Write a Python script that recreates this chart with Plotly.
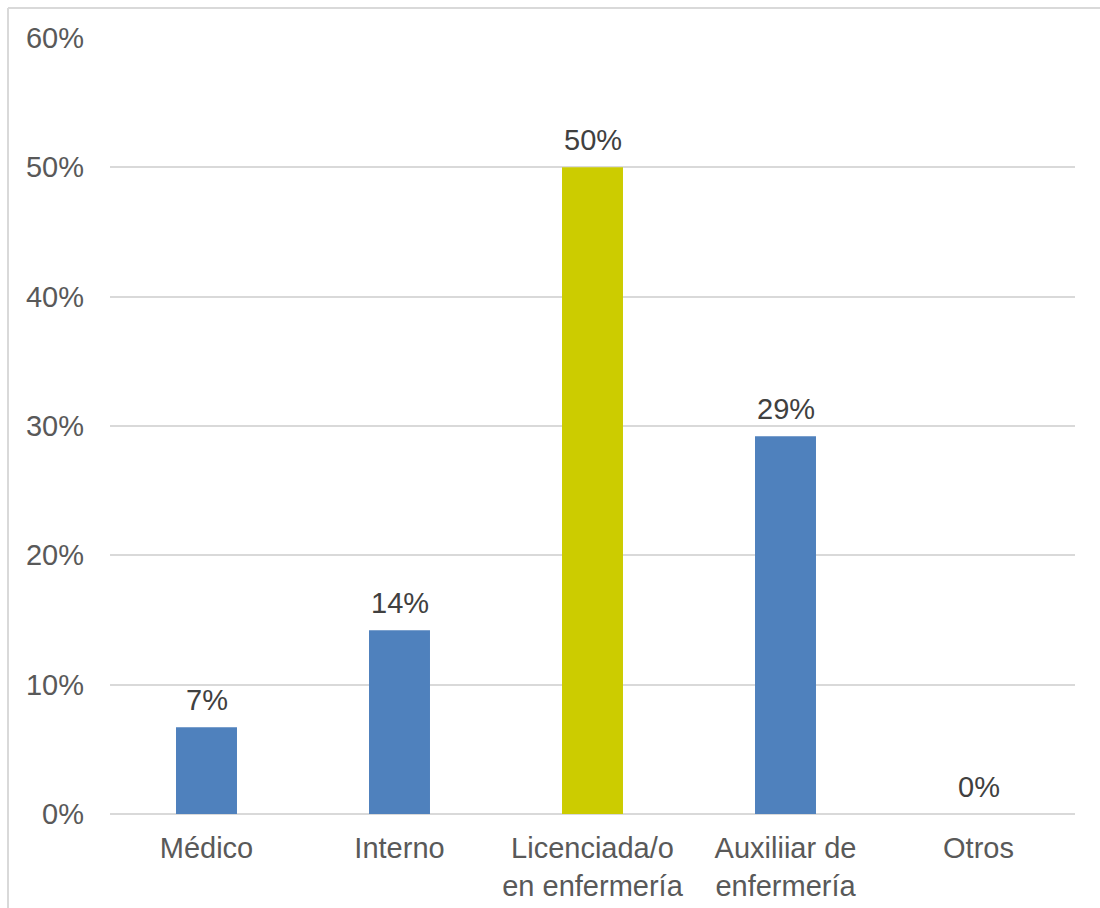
import plotly.graph_objects as go

# Distribución por categoría profesional
categorias = ["Médico", "Interno", "Licenciada/o<br>en enfermería", "Auxiliiar de<br>enfermería", "Otros"]
porcentajes = [0.067, 0.142, 0.50, 0.292, 0.0]
colores = ["#4F81BD", "#4F81BD", "#CCCC00", "#4F81BD", "#4F81BD"]
ticks_y = [0, 0.1, 0.2, 0.3, 0.4, 0.5, 0.6]

W, H = 1100, 908
L, R, T, B = 110, 25, 38, 94
FUENTE = "Liberation Sans, Arial"

fig = go.Figure(
    go.Bar(
        x=categorias,
        y=porcentajes,
        marker=dict(color=colores, line=dict(width=0)),
        width=0.316,
        hoverinfo="x+y",
    )
)

# Etiquetas de valor encima de cada barra
for cat, val in zip(categorias, porcentajes):
    fig.add_annotation(
        x=cat, y=val, text=f"{val:.0%}", showarrow=False,
        yanchor="bottom", yshift=9,
        font=dict(family=FUENTE, size=29, color="#404040"),
    )

# Marco exterior del gráfico (visible arriba y a la izquierda)
pw, ph = W - L - R, H - T - B
x0 = (8 - L) / pw
y1 = 1 + (T - 8) / ph
fig.add_shape(type="line", xref="paper", yref="paper", x0=x0, x1=x0, y0=-0.5, y1=y1,
              line=dict(color="#D9D9D9", width=2))
fig.add_shape(type="line", xref="paper", yref="paper", x0=x0, x1=1.5, y0=y1, y1=y1,
              line=dict(color="#D9D9D9", width=2))

fig.update_layout(
    width=W,
    height=H,
    margin=dict(l=L, r=R, t=T, b=B, autoexpand=False),
    paper_bgcolor="white",
    plot_bgcolor="white",
    showlegend=False,
    font=dict(family=FUENTE, size=29, color="#595959"),
    xaxis=dict(
        showgrid=False,
        showline=False,
        ticks="",
        automargin=False,
        ticklabelstandoff=14,
        tickfont=dict(size=29, color="#595959"),
    ),
    yaxis=dict(
        range=[0, 0.6],
        tickvals=ticks_y,
        tickformat=".0%",
        automargin=False,
        showgrid=True,
        gridcolor="#D9D9D9",
        gridwidth=1.5,
        zeroline=True,
        zerolinecolor="#D9D9D9",
        zerolinewidth=1.5,
        showline=False,
        ticks="",
        ticklabelstandoff=25,
        tickfont=dict(size=29, color="#595959"),
    ),
)

fig.write_html("out.html")
